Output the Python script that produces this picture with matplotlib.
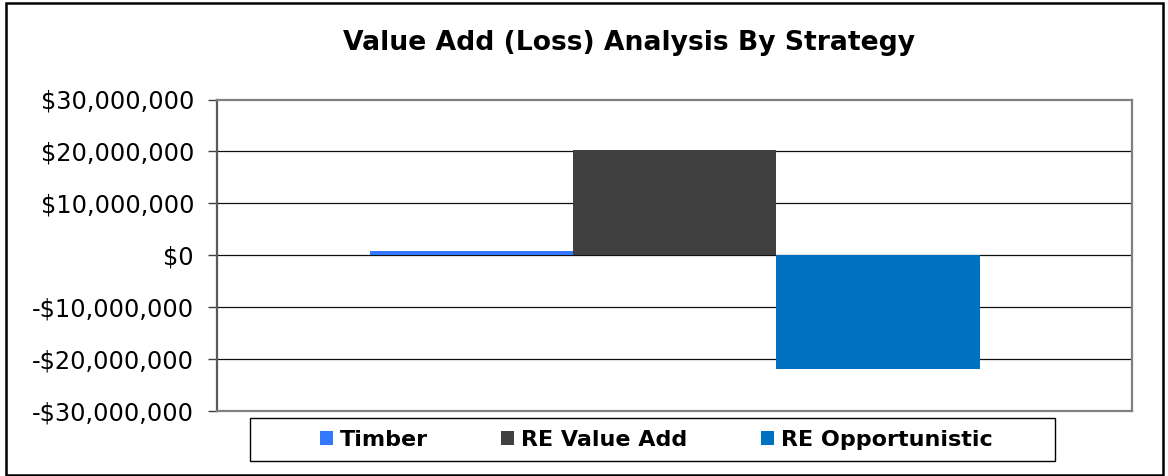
import matplotlib
matplotlib.use("Agg")
import matplotlib.pyplot as plt
from matplotlib.patches import Rectangle, Patch
from matplotlib.ticker import FuncFormatter, MultipleLocator

series = ["Timber", "RE Value Add", "RE Opportunistic"]
values = [800000, 20300000, -21900000]
colors = ["#3377FF", "#404040", "#0070C0"]
title = "Value Add (Loss) Analysis By Strategy"

W, H = 1168, 476
fig = plt.figure(figsize=(W / 100, H / 100), dpi=100)
fig.patch.set_facecolor("white")

ax = fig.add_axes([217 / W, 1 - 411 / H, (1132 - 217) / W, (411 - 99.5) / H])

n = len(series)
positions = [i - (n - 1) / 2 for i in range(n)]
ax.bar(positions, values, width=1.0, color=colors, zorder=3)

ax.set_xlim(-2.25, 2.25)
ax.set_ylim(-30000000, 30000000)
ax.yaxis.set_major_locator(MultipleLocator(10000000))

def money(v, pos):
    v = int(round(v))
    if v < 0:
        return "-${:,}".format(-v)
    return "${:,}".format(v)

ax.yaxis.set_major_formatter(FuncFormatter(money))
ax.set_xticks([])
ax.tick_params(axis="y", direction="out", length=6.5, width=1.0, color="#404040",
               labelsize=17.3, pad=10, labelcolor="black")

for t in range(-20000000, 30000000, 10000000):
    ax.axhline(t, color="#111111", lw=0.9, zorder=1)

for side in ["top", "right", "bottom"]:
    ax.spines[side].set_color("#808080")
    ax.spines[side].set_linewidth(1.6)
ax.spines["left"].set_color("#5a5a5a")
ax.spines["left"].set_linewidth(1.6)

fig.text(629 / W, 1 - 43 / H, title, ha="center", va="center",
         fontsize=19.2, fontweight="bold")

# legend box
lx0, lx1, ly0, ly1 = 250, 1055, 418, 461
fig.patches.append(Rectangle((lx0 / W, 1 - ly1 / H), (lx1 - lx0) / W, (ly1 - ly0) / H,
                             transform=fig.transFigure, fill=False, edgecolor="black",
                             lw=1.0))
handles = [Patch(facecolor=c, edgecolor="none", label=s) for s, c in zip(series, colors)]
fig.legend(handles=handles, loc="center", bbox_to_anchor=(656 / W, 1 - 439.5 / H),
           ncol=3, frameon=False, prop={"weight": "bold", "size": 16},
           handlelength=0.6, handleheight=0.6, handletextpad=0.3, columnspacing=3.3)

# outer border
fig.patches.append(Rectangle((6 / W, 1 / H), (1163 - 6) / W, (473 - 1) / H,
                             transform=fig.transFigure, fill=False, edgecolor="black",
                             lw=1.8))

fig.savefig("out.png", dpi=100, facecolor="white")
